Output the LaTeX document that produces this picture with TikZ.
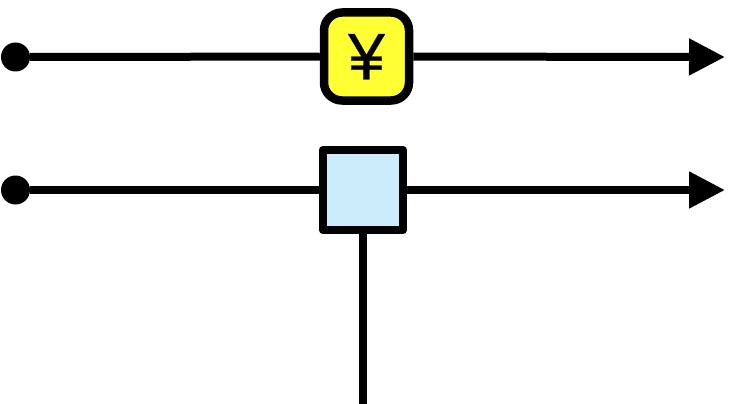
\documentclass[tikz,border=0pt]{standalone}
\usepackage{fontspec}
\setmainfont{Liberation Sans}
\usetikzlibrary{positioning}
\usetikzlibrary{arrows.meta}
\definecolor{price colour}{HTML}{FFFF33}
\definecolor{part colour}{HTML}{CCECFC}
\tikzset{
    % Arrow shape used on both lines
    >={Triangle[length=36pt, width=35pt]},
%
    % Next some lines
    flow/.style={line width=8pt},
    flow arrow/.style={flow, ->},
    % Start of each line
    source/.style={circle, fill=black, inner sep=0, minimum size=29pt},
}
\begin{document}
\begin{tikzpicture}[
    x=1pt, y=-1pt,
    basic node/.style={draw, line width=8.5pt, inner sep=0},
    price box/.style={
        basic node, fill=price colour, rectangle, rounded corners=18pt,
        minimum width=85pt, minimum height=88pt,
        font=\fontsize{66pt}{66pt}\selectfont\addfontfeature{FakeBold=0.4}},
    part box/.style={
        basic node, fill=part colour, rectangle, line join=round,
        minimum width=80pt, minimum height=80pt},
]
\useasboundingbox (0,0) rectangle (739,404);

% Upper line
\path
    (15.5,57) node [source] (upper start) {}
    (366.5,56.5) node [price box, text height=46pt, text depth=0pt] (price) {¥}
    (725,57) coordinate (upper end);

% Lower line
\path
    (15.5,190) node [source] (lower start) {}
    (363,190) node [part box] (part) {}
    (725,190) coordinate (lower end)
    (363,404) coordinate (part end);

\draw [flow] (upper start) -- (price);
\draw [flow arrow] (price) -- (upper end);
\draw [flow] (lower start) -- (part);
\draw [flow arrow] (part) -- (lower end);
\draw [flow] (part) -- (part end);

\end{tikzpicture}
\end{document}
